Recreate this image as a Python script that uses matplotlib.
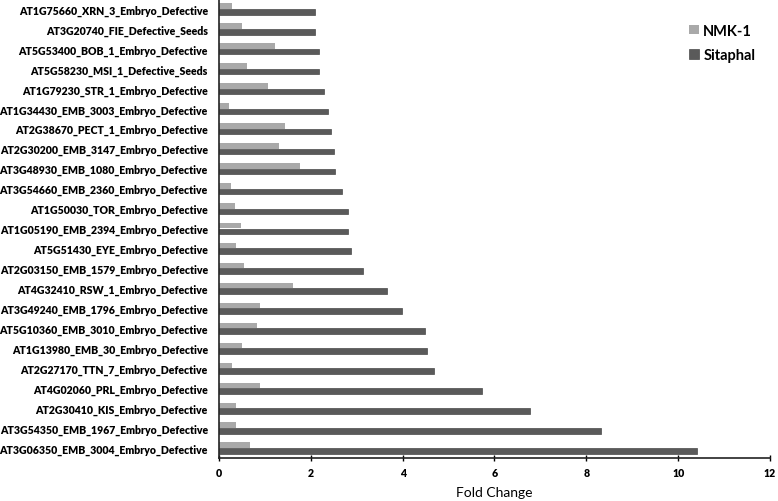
import matplotlib
matplotlib.use("Agg")
import matplotlib.pyplot as plt
import numpy as np

genes = [
    "AT1G75660_XRN_3_Embryo_Defective",
    "AT3G20740_FIE_Defective_Seeds",
    "AT5G53400_BOB_1_Embryo_Defective",
    "AT5G58230_MSI_1_Defective_Seeds",
    "AT1G79230_STR_1_Embryo_Defective",
    "AT1G34430_EMB_3003_Embryo_Defective",
    "AT2G38670_PECT_1_Embryo_Defective",
    "AT2G30200_EMB_3147_Embryo_Defective",
    "AT3G48930_EMB_1080_Embryo_Defective",
    "AT3G54660_EMB_2360_Embryo_Defective",
    "AT1G50030_TOR_Embryo_Defective",
    "AT1G05190_EMB_2394_Embryo_Defective",
    "AT5G51430_EYE_Embryo_Defective",
    "AT2G03150_EMB_1579_Embryo_Defective",
    "AT4G32410_RSW_1_Embryo_Defective",
    "AT3G49240_EMB_1796_Embryo_Defective",
    "AT5G10360_EMB_3010_Embryo_Defective",
    "AT1G13980_EMB_30_Embryo_Defective",
    "AT2G27170_TTN_7_Embryo_Defective",
    "AT4G02060_PRL_Embryo_Defective",
    "AT2G30410_KIS_Embryo_Defective",
    "AT3G54350_EMB_1967_Embryo_Defective",
    "AT3G06350_EMB_3004_Embryo_Defective",
]
nmk1 = [0.28, 0.50, 1.22, 0.61, 1.07, 0.22, 1.43, 1.30, 1.77, 0.27, 0.35, 0.48,
        0.37, 0.55, 1.62, 0.90, 0.82, 0.50, 0.29, 0.90, 0.38, 0.38, 0.68]
sitaphal = [2.09, 2.09, 2.17, 2.18, 2.28, 2.37, 2.45, 2.51, 2.53, 2.67, 2.80, 2.80,
            2.88, 3.14, 3.65, 3.98, 4.48, 4.52, 4.69, 5.72, 6.78, 8.33, 10.42]
xticks = [0, 2, 4, 6, 8, 10, 12]

fig = plt.figure(figsize=(7.78, 5.02), dpi=100)
ax = fig.add_axes([219/778, 43/502, 551/778, 459/502])

y = np.arange(len(genes))
h = 0.28
ax.barh(y - h/2, nmk1, height=h, color="#a9a9a9", label="NMK-1")
ax.barh(y + h/2, sitaphal, height=h, color="#5a5a5a", edgecolor="#4a4a4a",
        linewidth=0.5, label="Sitaphal")

ax.set_ylim(len(genes) - 0.5, -0.5)
ax.set_xlim(0, 12)
ax.set_yticks(y)
ax.set_yticklabels(genes, fontsize=7.6, fontweight="heavy", family="Lato")
ax.set_xticks(xticks)
ax.set_xticklabels([str(t) for t in xticks], fontsize=7.6, fontweight="heavy", family="Lato")
ax.tick_params(axis="y", length=0, pad=8)
ax.tick_params(axis="x", direction="inout", length=5, width=1, pad=4)
for s in ["top", "right"]:
    ax.spines[s].set_visible(False)
for s in ["left", "bottom"]:
    ax.spines[s].set_linewidth(1.2)
    ax.spines[s].set_color("#222222")
ax.set_xlabel("Fold Change", fontsize=10, family="Lato", labelpad=6)

leg = ax.legend(loc="upper left", bbox_to_anchor=(0.83, 0.975), frameon=False,
                prop={"family": "Lato", "weight": "bold", "size": 10.5},
                handlelength=0.65, handleheight=0.65, handletextpad=0.3, labelspacing=0.7)

fig.savefig("out.png", dpi=100)
